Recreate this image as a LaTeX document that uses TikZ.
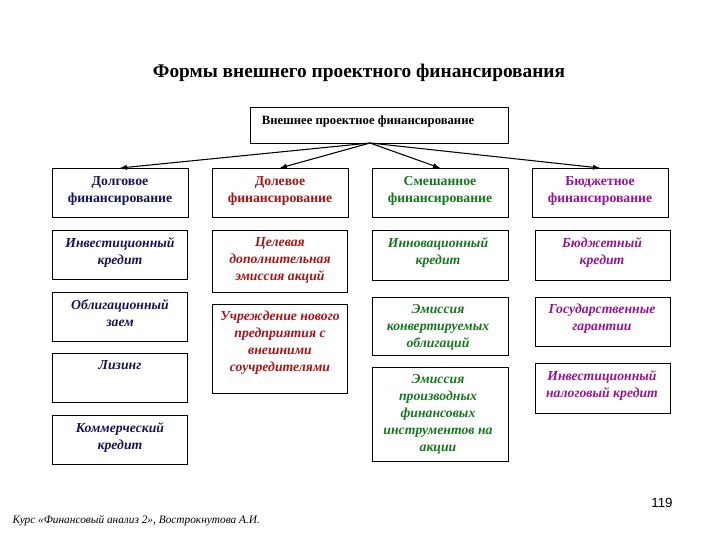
\documentclass[tikz,border=0pt]{standalone}
\usepackage{fontspec}
\setmainfont{Liberation Serif}
\newfontfamily\numfont{Liberation Sans}
\begin{document}
\begin{tikzpicture}[x=0.75pt,y=-0.75pt,
  bx/.style={draw,line width=0.6pt},
  tx/.style={anchor=north,align=center,font=\fontsize{10.3}{12.7}\selectfont\bfseries,inner sep=0pt},
  it/.style={tx,font=\fontsize{10.3}{12.7}\selectfont\bfseries\itshape},
  arr/.style={-latex,line width=0.8pt}]
\useasboundingbox (0,0) rectangle (720,540);
\definecolor{cblue}{RGB}{20,20,90}
\definecolor{cred}{RGB}{170,20,20}
\definecolor{cgreen}{RGB}{20,120,30}
\definecolor{cmag}{RGB}{150,20,150}
\node[font=\fontsize{14.5}{17}\selectfont\bfseries] (title) at (359,73) {Формы внешнего проектного финансирования};
\draw[bx] (250,107) rectangle (508,143);
\node[tx,font=\fontsize{9.5}{12}\selectfont\bfseries] (top) at (368,115) {Внешнее проектное финансирование};
\coordinate (src) at (370,143);
% headers
\foreach \n/\xa/\c/\t in {h1/52/cblue/{Долговое\\финансирование},h2/212/cred/{Долевое\\финансирование},h3/372/cgreen/{Смешанное\\финансирование},h4/532/cmag/{Бюджетное\\финансирование}}{
  \draw[bx] (\xa,168) rectangle ++(136,49);
  \coordinate (\n) at (\xa+68,168);
  \node[tx,text=\c] at (\xa+68,176) {\t};
}
\foreach \n in {h1,h2,h3,h4} \draw[arr] (src) -- (\n);
% column 1
\foreach \ya/\yb/\t in {230/279/{Инвестиционный\\кредит},292/341/{Облигационный\\заем},353/402/{Лизинг},415/464/{Коммерческий\\кредит}}{
  \draw[bx] (52,\ya) rectangle (187,\yb);
  \node[it,text=cblue] at (120,\ya+7) {\t};
}
% column 2
\foreach \ya/\yb/\t in {230/292/{Целевая\\дополнительная\\эмиссия акций},304/393/{Учреждение нового\\предприятия с\\внешними\\соучредителями}}{
  \draw[bx] (212,\ya) rectangle (347,\yb);
  \node[it,text=cred] at (280,\ya+7) {\t};
}
% column 3
\foreach \ya/\yb/\t in {230/280/{Инновационный\\кредит},297/355/{Эмиссия\\конвертируемых\\облигаций},367/461/{Эмиссия\\производных\\финансовых\\инструментов на\\акции}}{
  \draw[bx] (372,\ya) rectangle (508,\yb);
  \node[it,text=cgreen] at (438,\ya+7) {\t};
}
% column 4
\foreach \ya/\yb/\t in {230/280/{Бюджетный\\кредит},297/346/{Государственные\\гарантии},363/413/{Инвестиционный\\налоговый кредит}}{
  \draw[bx] (535,\ya) rectangle (670,\yb);
  \node[it,text=cmag] at (602,\ya+7) {\t};
}
\node[font=\numfont\fontsize{10}{12}\selectfont] (pg) at (662,503) {119};
\node[anchor=west,font=\fontsize{8.5}{10}\selectfont\itshape] (foot) at (8,521) {Курс «Финансовый анализ 2», Вострокнутова А.И.};
\end{tikzpicture}
\end{document}
